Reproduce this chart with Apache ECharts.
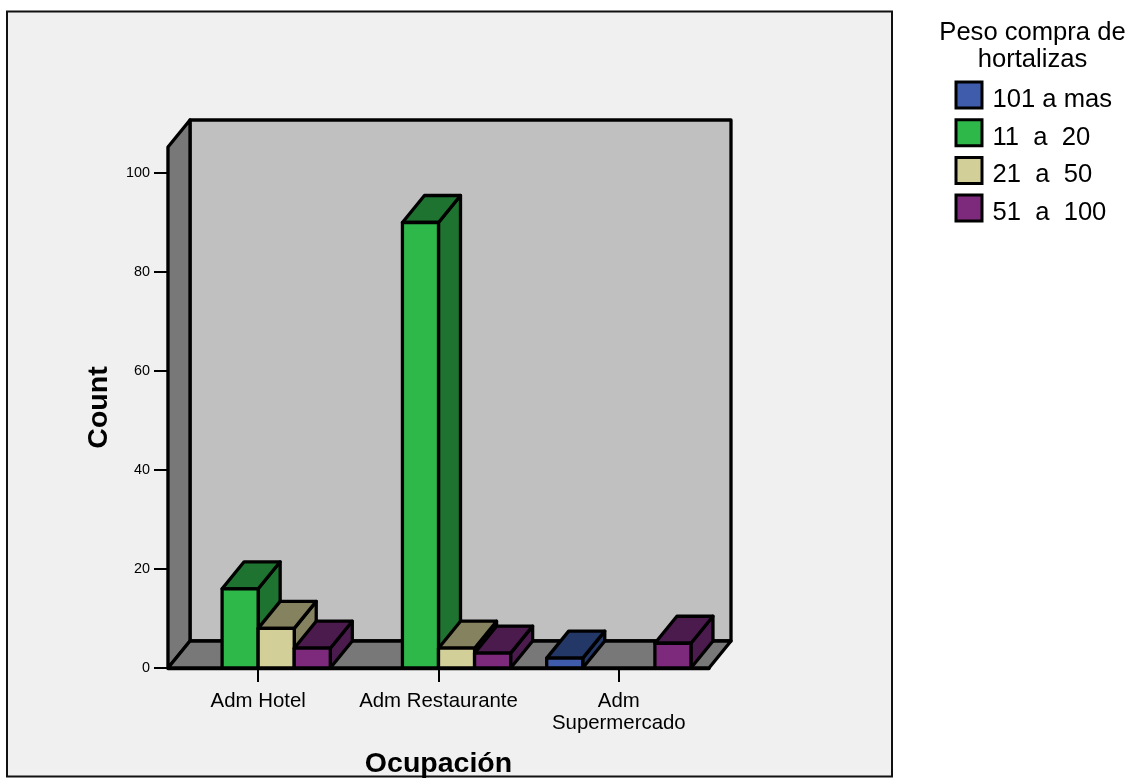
<!DOCTYPE html>
<html>
<head>
<meta charset="utf-8">
<style>html,body{margin:0;padding:0;background:#fff}#c{width:1134px;height:779px}</style>
<script src="https://cdn.jsdelivr.net/npm/echarts@6/dist/echarts.min.js"></script>
</head>
<body>
<div id="c"></div>
<script>
const categories = ['Adm Hotel', 'Adm Restaurante', 'Adm\nSupermercado'];
const groups = ['101 a mas', '11  a  20', '21  a  50', '51  a  100'];
const counts101 = [null, null, 2];
const counts11 = [16, 90, null];
const counts21 = [8, 4, null];
const counts51 = [4, 3, 5];
const yTicks = [0, 20, 40, 60, 80, 100];
const yMax = 105.25;

const faceColors = ['#3f5bab', '#2fb84a', '#d3cf98', '#7e2a7c'];
const shadeColors = ['#243868', '#1f7330', '#85825f', '#4c1b4e'];
const DX = 22, DY = -27;           // oblique offset of the depth axis
const FONT = '"Liberation Sans", Arial, sans-serif';
const edge = { stroke: '#000', lineWidth: 3.3, lineJoin: 'round' };

const chart = echarts.init(document.getElementById('c'), null, { renderer: 'canvas' });

function poly(points, fill) {
  return { type: 'polygon', shape: { points }, style: Object.assign({ fill }, edge) };
}

// Back wall, side wall and floor of the box, derived from the grid rectangle.
function renderBox(params) {
  const g = params.coordSys;
  const l = g.x, r = g.x + g.width, t = g.y, b = g.y + g.height;
  return {
    type: 'group',
    children: [
      poly([[l + DX, t + DY], [r + DX, t + DY], [r + DX, b + DY], [l + DX, b + DY]], '#c0c0c0'),
      poly([[l, t], [l + DX, t + DY], [l + DX, b + DY], [l, b]], '#787878'),
      poly([[l, b], [r, b], [r + DX, b + DY], [l + DX, b + DY]], '#787878')
    ]
  };
}

// One oblique bar: four slots per category band, each a fifth of the band wide.
function barRenderer(slot) {
  return function (params, api) {
    const cat = api.value(0);
    const base = api.coord([cat, 0]);
    const top = api.coord([cat, api.value(1)]);
    const w = api.size([1, 0])[0] / 5;
    const x0 = base[0] + (slot - 2) * w;
    const x1 = x0 + w;
    const yb = base[1], yt = top[1];
    return {
      type: 'group',
      children: [
        poly([[x1, yb], [x1 + DX, yb + DY], [x1 + DX, yt + DY], [x1, yt]], shadeColors[slot]),
        poly([[x0, yt], [x1, yt], [x1 + DX, yt + DY], [x0 + DX, yt + DY]], shadeColors[slot]),
        poly([[x0, yb], [x1, yb], [x1, yt], [x0, yt]], faceColors[slot])
      ]
    };
  };
}

function barData(values) {
  return values.map((v, i) => [i, v]).filter(d => d[1] !== null);
}

const seriesValues = [counts101, counts11, counts21, counts51];

chart.setOption({
  animation: false,
  backgroundColor: '#fff',
  textStyle: { fontFamily: FONT },
  graphic: [{
    type: 'rect',
    z: -10,
    silent: true,
    shape: { x: 7, y: 11.5, width: 885, height: 765 },
    style: { fill: '#f0f0f0', stroke: '#111', lineWidth: 2 }
  }],
  title: {
    text: 'Peso compra de\nhortalizas',
    left: 1027.5,
    top: 14,
    textAlign: 'center',
    textStyle: { fontFamily: FONT, fontSize: 25.6, fontWeight: 'normal', color: '#000', lineHeight: 27 }
  },
  legend: {
    orient: 'vertical',
    left: 949.5,
    top: 75.5,
    icon: 'rect',
    selectedMode: false,
    itemWidth: 26,
    itemHeight: 26,
    itemGap: 5.2,
    itemStyle: { borderColor: '#000', borderWidth: 3 },
    // a tall empty strut lets the label sit slightly below the swatch centre
    formatter: '{s|}{a|{name}}',
    textStyle: {
      fontFamily: FONT,
      fontSize: 25.6,
      color: '#000',
      padding: [0, 0, 0, 5.5],
      rich: {
        s: { lineHeight: 36, fontSize: 1, width: 0 },
        a: { fontFamily: FONT, fontSize: 25.6, color: '#000', lineHeight: 26, verticalAlign: 'bottom' }
      }
    },
    data: groups
  },
  grid: { left: 168, top: 147, width: 541, height: 521, outerBoundsMode: 'none' },
  xAxis: {
    type: 'category',
    data: categories,
    name: 'Ocupación',
    nameLocation: 'middle',
    nameGap: 82,
    nameTextStyle: { fontFamily: FONT, fontSize: 28.5, fontWeight: 'bold', color: '#000' },
    axisLine: { lineStyle: { color: '#000', width: 3.3 } },
    axisTick: { show: true, alignWithLabel: true, length: 14, lineStyle: { color: '#000', width: 2 } },
    axisLabel: { color: '#000', fontFamily: FONT, fontSize: 20.4, margin: 22, lineHeight: 22, interval: 0 }
  },
  yAxis: {
    type: 'value',
    min: 0,
    max: yMax,
    interval: 20,
    name: 'Count',
    nameLocation: 'middle',
    nameGap: 54,
    nameTextStyle: { fontFamily: FONT, fontSize: 28.5, fontWeight: 'bold', color: '#000' },
    splitLine: { show: false },
    axisLine: { show: true, lineStyle: { color: '#000', width: 3.3 } },
    axisTick: { show: true, length: 14, customValues: yTicks, lineStyle: { color: '#000', width: 2 } },
    axisLabel: { color: '#000', fontFamily: FONT, fontSize: 14.4, margin: 18, customValues: yTicks }
  },
  series: [{
    type: 'custom',
    name: 'box',
    coordinateSystem: 'cartesian2d',
    renderItem: renderBox,
    silent: true,
    z: 1,
    data: [[0, 0]]
  }].concat(groups.map((name, i) => ({
    type: 'custom',
    name,
    coordinateSystem: 'cartesian2d',
    renderItem: barRenderer(i),
    encode: { x: 0, y: 1 },
    itemStyle: { color: faceColors[i] },
    z: 2 + i,
    data: barData(seriesValues[i])
  })))
});
</script>
</body>
</html>
